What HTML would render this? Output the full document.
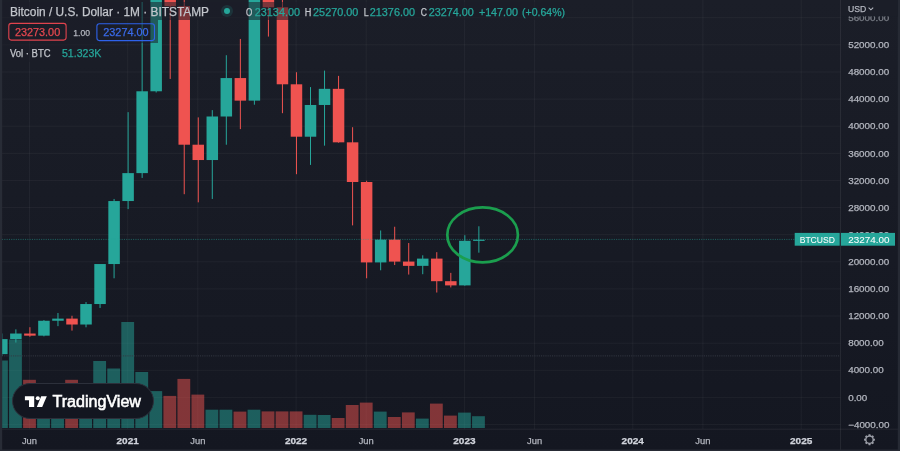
<!DOCTYPE html>
<html><head><meta charset="utf-8"><title>BTCUSD</title>
<style>html,body{margin:0;padding:0;background:#181c27;width:900px;height:451px;overflow:hidden}svg{display:block;will-change:transform}text{font-family:"Liberation Sans",sans-serif}</style>
</head><body>
<svg width="900" height="451" viewBox="0 0 900 451" font-family="Liberation Sans, sans-serif">
<defs><linearGradient id="bgg" x1="0" y1="0" x2="0" y2="1"><stop offset="0" stop-color="#1b1e28"/><stop offset="1" stop-color="#141721"/></linearGradient><clipPath id="chartclip"><rect x="2" y="0" width="838.0" height="428.7"/></clipPath></defs>
<rect x="0" y="0" width="900" height="451" fill="url(#bgg)"/>
<rect x="2" y="424.02" width="838.50" height="1" fill="rgba(255,255,255,0.045)"/>
<rect x="2" y="396.90" width="838.50" height="1" fill="rgba(255,255,255,0.045)"/>
<rect x="2" y="369.78" width="838.50" height="1" fill="rgba(255,255,255,0.045)"/>
<rect x="2" y="342.66" width="838.50" height="1" fill="rgba(255,255,255,0.045)"/>
<rect x="2" y="315.54" width="838.50" height="1" fill="rgba(255,255,255,0.045)"/>
<rect x="2" y="288.42" width="838.50" height="1" fill="rgba(255,255,255,0.045)"/>
<rect x="2" y="261.30" width="838.50" height="1" fill="rgba(255,255,255,0.045)"/>
<rect x="2" y="234.18" width="838.50" height="1" fill="rgba(255,255,255,0.045)"/>
<rect x="2" y="207.06" width="838.50" height="1" fill="rgba(255,255,255,0.045)"/>
<rect x="2" y="179.94" width="838.50" height="1" fill="rgba(255,255,255,0.045)"/>
<rect x="2" y="152.82" width="838.50" height="1" fill="rgba(255,255,255,0.045)"/>
<rect x="2" y="125.70" width="838.50" height="1" fill="rgba(255,255,255,0.045)"/>
<rect x="2" y="98.58" width="838.50" height="1" fill="rgba(255,255,255,0.045)"/>
<rect x="2" y="71.46" width="838.50" height="1" fill="rgba(255,255,255,0.045)"/>
<rect x="2" y="44.34" width="838.50" height="1" fill="rgba(255,255,255,0.045)"/>
<rect x="2" y="17.22" width="838.50" height="1" fill="rgba(255,255,255,0.045)"/>
<rect x="29.00" y="0" width="1" height="429.20" fill="rgba(255,255,255,0.045)"/>
<rect x="127.21" y="0" width="1" height="429.20" fill="rgba(255,255,255,0.045)"/>
<rect x="197.36" y="0" width="1" height="429.20" fill="rgba(255,255,255,0.045)"/>
<rect x="295.57" y="0" width="1" height="429.20" fill="rgba(255,255,255,0.045)"/>
<rect x="365.72" y="0" width="1" height="429.20" fill="rgba(255,255,255,0.045)"/>
<rect x="463.93" y="0" width="1" height="429.20" fill="rgba(255,255,255,0.045)"/>
<rect x="534.08" y="0" width="1" height="429.20" fill="rgba(255,255,255,0.045)"/>
<rect x="632.29" y="0" width="1" height="429.20" fill="rgba(255,255,255,0.045)"/>
<rect x="702.44" y="0" width="1" height="429.20" fill="rgba(255,255,255,0.045)"/>
<rect x="800.65" y="0" width="1" height="429.20" fill="rgba(255,255,255,0.045)"/>
<g clip-path="url(#chartclip)">
<rect x="-4.96" y="360.50" width="12.8" height="67.50" fill="rgba(38,166,154,0.5)"/>
<rect x="9.07" y="339.50" width="12.8" height="88.50" fill="rgba(38,166,154,0.5)"/>
<rect x="23.10" y="379.80" width="12.8" height="48.20" fill="rgba(239,83,80,0.5)"/>
<rect x="37.13" y="386.00" width="12.8" height="42.00" fill="rgba(38,166,154,0.5)"/>
<rect x="51.16" y="387.00" width="12.8" height="41.00" fill="rgba(38,166,154,0.5)"/>
<rect x="65.19" y="379.80" width="12.8" height="48.20" fill="rgba(239,83,80,0.5)"/>
<rect x="79.22" y="385.00" width="12.8" height="43.00" fill="rgba(38,166,154,0.5)"/>
<rect x="93.25" y="361.00" width="12.8" height="67.00" fill="rgba(38,166,154,0.5)"/>
<rect x="107.28" y="368.50" width="12.8" height="59.50" fill="rgba(38,166,154,0.5)"/>
<rect x="121.31" y="322.00" width="12.8" height="106.00" fill="rgba(38,166,154,0.5)"/>
<rect x="135.34" y="372.00" width="12.8" height="56.00" fill="rgba(38,166,154,0.5)"/>
<rect x="149.37" y="391.10" width="12.8" height="36.90" fill="rgba(38,166,154,0.5)"/>
<rect x="163.40" y="395.90" width="12.8" height="32.10" fill="rgba(239,83,80,0.5)"/>
<rect x="177.43" y="378.90" width="12.8" height="49.10" fill="rgba(239,83,80,0.5)"/>
<rect x="191.46" y="394.60" width="12.8" height="33.40" fill="rgba(239,83,80,0.5)"/>
<rect x="205.49" y="409.70" width="12.8" height="18.30" fill="rgba(38,166,154,0.5)"/>
<rect x="219.52" y="409.70" width="12.8" height="18.30" fill="rgba(38,166,154,0.5)"/>
<rect x="233.55" y="411.60" width="12.8" height="16.40" fill="rgba(239,83,80,0.5)"/>
<rect x="247.58" y="409.70" width="12.8" height="18.30" fill="rgba(38,166,154,0.5)"/>
<rect x="261.61" y="411.40" width="12.8" height="16.60" fill="rgba(239,83,80,0.5)"/>
<rect x="275.64" y="411.40" width="12.8" height="16.60" fill="rgba(239,83,80,0.5)"/>
<rect x="289.67" y="411.40" width="12.8" height="16.60" fill="rgba(239,83,80,0.5)"/>
<rect x="303.70" y="414.80" width="12.8" height="13.20" fill="rgba(38,166,154,0.5)"/>
<rect x="317.73" y="415.00" width="12.8" height="13.00" fill="rgba(38,166,154,0.5)"/>
<rect x="331.76" y="418.00" width="12.8" height="10.00" fill="rgba(239,83,80,0.5)"/>
<rect x="345.79" y="405.00" width="12.8" height="23.00" fill="rgba(239,83,80,0.5)"/>
<rect x="359.82" y="402.60" width="12.8" height="25.40" fill="rgba(239,83,80,0.5)"/>
<rect x="373.85" y="411.60" width="12.8" height="16.40" fill="rgba(38,166,154,0.5)"/>
<rect x="387.88" y="417.00" width="12.8" height="11.00" fill="rgba(239,83,80,0.5)"/>
<rect x="401.91" y="412.40" width="12.8" height="15.60" fill="rgba(239,83,80,0.5)"/>
<rect x="415.94" y="418.60" width="12.8" height="9.40" fill="rgba(38,166,154,0.5)"/>
<rect x="429.97" y="403.60" width="12.8" height="24.40" fill="rgba(239,83,80,0.5)"/>
<rect x="444.00" y="415.60" width="12.8" height="12.40" fill="rgba(239,83,80,0.5)"/>
<rect x="458.03" y="412.60" width="12.8" height="15.40" fill="rgba(38,166,154,0.5)"/>
<rect x="472.06" y="416.20" width="12.8" height="11.80" fill="rgba(38,166,154,0.5)"/>
<line x1="2" y1="355.9" x2="840.5" y2="355.9" stroke="#343843" stroke-width="1" stroke-dasharray="1.1 1.1"/>
<rect x="1.34" y="333.46" width="1" height="22.44" fill="#26a69a"/>
<rect x="-3.91" y="339.10" width="11.5" height="15.03" fill="#26a69a"/>
<rect x="15.37" y="329.35" width="1" height="13.22" fill="#26a69a"/>
<rect x="10.12" y="333.53" width="11.5" height="5.57" fill="#26a69a"/>
<rect x="29.40" y="327.22" width="1" height="9.53" fill="#ef5350"/>
<rect x="24.15" y="333.53" width="11.5" height="2.13" fill="#ef5350"/>
<rect x="43.43" y="320.08" width="1" height="16.29" fill="#26a69a"/>
<rect x="38.18" y="320.76" width="11.5" height="14.90" fill="#26a69a"/>
<rect x="57.46" y="313.02" width="1" height="13.12" fill="#26a69a"/>
<rect x="52.21" y="318.61" width="11.5" height="2.14" fill="#26a69a"/>
<rect x="71.49" y="315.77" width="1" height="14.85" fill="#ef5350"/>
<rect x="66.24" y="318.61" width="11.5" height="5.90" fill="#ef5350"/>
<rect x="85.52" y="302.07" width="1" height="25.22" fill="#26a69a"/>
<rect x="80.27" y="304.04" width="11.5" height="20.48" fill="#26a69a"/>
<rect x="99.55" y="265.46" width="1" height="42.51" fill="#26a69a"/>
<rect x="94.30" y="264.03" width="11.5" height="40.00" fill="#26a69a"/>
<rect x="113.58" y="198.95" width="1" height="79.33" fill="#26a69a"/>
<rect x="108.33" y="201.05" width="11.5" height="62.99" fill="#26a69a"/>
<rect x="127.61" y="112.16" width="1" height="96.95" fill="#26a69a"/>
<rect x="122.36" y="173.11" width="11.5" height="27.93" fill="#26a69a"/>
<rect x="141.64" y="1.99" width="1" height="175.94" fill="#26a69a"/>
<rect x="136.39" y="91.28" width="11.5" height="81.83" fill="#26a69a"/>
<rect x="155.67" y="-21.27" width="1" height="113.77" fill="#26a69a"/>
<rect x="150.42" y="-1.00" width="11.5" height="92.28" fill="#26a69a"/>
<rect x="169.70" y="-42.42" width="1" height="121.36" fill="#ef5350"/>
<rect x="164.45" y="-1.00" width="11.5" height="7.25" fill="#ef5350"/>
<rect x="183.73" y="-6.49" width="1" height="200.69" fill="#ef5350"/>
<rect x="178.48" y="6.26" width="11.5" height="138.45" fill="#ef5350"/>
<rect x="197.76" y="117.38" width="1" height="84.95" fill="#ef5350"/>
<rect x="192.51" y="144.71" width="11.5" height="15.32" fill="#ef5350"/>
<rect x="211.79" y="110.13" width="1" height="88.82" fill="#26a69a"/>
<rect x="206.54" y="116.50" width="11.5" height="43.53" fill="#26a69a"/>
<rect x="225.82" y="55.21" width="1" height="89.50" fill="#26a69a"/>
<rect x="220.57" y="78.06" width="11.5" height="38.44" fill="#26a69a"/>
<rect x="239.85" y="38.94" width="1" height="90.17" fill="#ef5350"/>
<rect x="234.60" y="78.06" width="11.5" height="22.58" fill="#ef5350"/>
<rect x="253.88" y="-56.66" width="1" height="161.36" fill="#26a69a"/>
<rect x="248.63" y="-18.35" width="11.5" height="118.99" fill="#26a69a"/>
<rect x="267.91" y="-70.22" width="1" height="106.79" fill="#ef5350"/>
<rect x="262.66" y="-18.35" width="11.5" height="25.66" fill="#ef5350"/>
<rect x="281.94" y="-3.10" width="1" height="116.28" fill="#ef5350"/>
<rect x="276.69" y="7.30" width="11.5" height="76.99" fill="#ef5350"/>
<rect x="295.97" y="72.23" width="1" height="101.97" fill="#ef5350"/>
<rect x="290.72" y="84.30" width="11.5" height="52.41" fill="#ef5350"/>
<rect x="310.00" y="87.08" width="1" height="77.83" fill="#26a69a"/>
<rect x="304.75" y="104.98" width="11.5" height="31.73" fill="#26a69a"/>
<rect x="324.03" y="70.60" width="1" height="75.05" fill="#26a69a"/>
<rect x="318.78" y="88.84" width="11.5" height="16.14" fill="#26a69a"/>
<rect x="338.06" y="75.89" width="1" height="66.78" fill="#ef5350"/>
<rect x="332.81" y="88.84" width="11.5" height="53.49" fill="#ef5350"/>
<rect x="352.09" y="127.21" width="1" height="98.17" fill="#ef5350"/>
<rect x="346.84" y="142.33" width="11.5" height="39.66" fill="#ef5350"/>
<rect x="366.12" y="180.78" width="1" height="97.50" fill="#ef5350"/>
<rect x="360.87" y="182.00" width="11.5" height="80.41" fill="#ef5350"/>
<rect x="380.15" y="230.47" width="1" height="39.80" fill="#26a69a"/>
<rect x="374.90" y="239.63" width="11.5" height="22.78" fill="#26a69a"/>
<rect x="394.18" y="226.74" width="1" height="38.31" fill="#ef5350"/>
<rect x="388.93" y="239.63" width="11.5" height="21.97" fill="#ef5350"/>
<rect x="408.21" y="243.02" width="1" height="31.53" fill="#ef5350"/>
<rect x="402.96" y="261.59" width="11.5" height="4.27" fill="#ef5350"/>
<rect x="422.24" y="255.29" width="1" height="18.92" fill="#26a69a"/>
<rect x="416.99" y="258.61" width="11.5" height="7.25" fill="#26a69a"/>
<rect x="436.27" y="252.17" width="1" height="40.34" fill="#ef5350"/>
<rect x="431.02" y="258.61" width="11.5" height="22.58" fill="#ef5350"/>
<rect x="450.30" y="272.85" width="1" height="14.58" fill="#ef5350"/>
<rect x="445.05" y="281.19" width="11.5" height="4.20" fill="#ef5350"/>
<rect x="464.33" y="235.22" width="1" height="50.51" fill="#26a69a"/>
<rect x="459.08" y="240.78" width="11.5" height="44.61" fill="#26a69a"/>
<rect x="478.36" y="226.27" width="1" height="26.40" fill="#26a69a"/>
<rect x="473.11" y="239.68" width="11.5" height="1.20" fill="#26a69a"/>
</g>
<line x1="2" y1="239.4" x2="795" y2="239.4" stroke="#26a69a" stroke-opacity="0.5" stroke-width="1" stroke-dasharray="1.1 1.2"/>
<ellipse cx="482.6" cy="234.9" rx="35.3" ry="27.5" fill="none" stroke="#1b9e4e" stroke-width="2.7"/>
<rect x="2" y="2" width="564" height="18" fill="rgba(27,30,40,0.55)"/>
<rect x="2" y="20" width="156" height="23" fill="rgba(27,30,40,0.55)"/>
<rect x="2" y="43" width="102" height="19" fill="rgba(27,30,40,0.55)"/>
<text x="10" y="15.7" font-size="12" fill="#c3c6cc" stroke="#c3c6cc" stroke-width="0.25" textLength="199" lengthAdjust="spacingAndGlyphs">Bitcoin / U.S. Dollar · 1M · BITSTAMP</text>
<circle cx="227" cy="11" r="6" fill="rgba(38,166,154,0.16)"/>
<circle cx="227" cy="11" r="3" fill="#26a69a"/>
<text x="246" y="15.9" font-size="10" fill="#c3c6cc" stroke="#c3c6cc" stroke-width="0.25" textLength="6.3" lengthAdjust="spacingAndGlyphs">O</text>
<text x="254.8" y="15.9" font-size="10" fill="#26a69a" stroke="#26a69a" stroke-width="0.25" textLength="45.2" lengthAdjust="spacingAndGlyphs">23134.00</text>
<text x="304.7" y="15.9" font-size="10" fill="#c3c6cc" stroke="#c3c6cc" stroke-width="0.25" textLength="6.6" lengthAdjust="spacingAndGlyphs">H</text>
<text x="313.1" y="15.9" font-size="10" fill="#26a69a" stroke="#26a69a" stroke-width="0.25" textLength="45.2" lengthAdjust="spacingAndGlyphs">25270.00</text>
<text x="363.8" y="15.9" font-size="10" fill="#c3c6cc" stroke="#c3c6cc" stroke-width="0.25" textLength="4.9" lengthAdjust="spacingAndGlyphs">L</text>
<text x="369.8" y="15.9" font-size="10" fill="#26a69a" stroke="#26a69a" stroke-width="0.25" textLength="45.2" lengthAdjust="spacingAndGlyphs">21376.00</text>
<text x="420.7" y="15.9" font-size="10" fill="#c3c6cc" stroke="#c3c6cc" stroke-width="0.25" textLength="6.2" lengthAdjust="spacingAndGlyphs">C</text>
<text x="428.8" y="15.9" font-size="10" fill="#26a69a" stroke="#26a69a" stroke-width="0.25" textLength="45" lengthAdjust="spacingAndGlyphs">23274.00</text>
<text x="478.9" y="15.9" font-size="10" fill="#26a69a" stroke="#26a69a" stroke-width="0.25" textLength="39.1" lengthAdjust="spacingAndGlyphs">+147.00</text>
<text x="522" y="15.9" font-size="10" fill="#26a69a" stroke="#26a69a" stroke-width="0.25" textLength="43" lengthAdjust="spacingAndGlyphs">(+0.64%)</text>
<rect x="8.8" y="23.4" width="57.3" height="16.7" rx="2.5" fill="none" stroke="#e0434d" stroke-width="1.1"/>
<text x="14.9" y="36" font-size="10" fill="#e5474f" stroke="#e5474f" stroke-width="0.25" textLength="45.3" lengthAdjust="spacingAndGlyphs">23273.00</text>
<text x="73.3" y="35.6" font-size="8.5" fill="#b2b5be" stroke="#b2b5be" stroke-width="0.25" textLength="16.7" lengthAdjust="spacingAndGlyphs">1.00</text>
<rect x="96.9" y="23.8" width="57.6" height="16.8" rx="2.5" fill="none" stroke="#2e62ea" stroke-width="1.1"/>
<text x="103.3" y="36.1" font-size="10" fill="#3a6ae8" stroke="#3a6ae8" stroke-width="0.25" textLength="45.3" lengthAdjust="spacingAndGlyphs">23274.00</text>
<text x="10" y="56.6" font-size="10" fill="#c3c6cc" stroke="#c3c6cc" stroke-width="0.25" textLength="40.6" lengthAdjust="spacingAndGlyphs">Vol · BTC</text>
<text x="62" y="56.7" font-size="10" fill="#26a69a" stroke="#26a69a" stroke-width="0.25" textLength="39.3" lengthAdjust="spacingAndGlyphs">51.323K</text>
<rect x="12.5" y="383.5" width="141" height="35" rx="17.5" fill="#131620" stroke="#2c303b" stroke-width="1"/>
<g fill="#ffffff"><path d="M24.9 396.2 H34.2 V407.1 H29 V400.3 H24.9 Z"/><circle cx="37.8" cy="398.2" r="2.05"/><path d="M41.2 396.2 H46.8 L42.2 407.1 H36.8 Z"/></g>
<text x="52.4" y="407" font-size="16" fill="#ffffff" stroke="#ffffff" stroke-width="0.55" textLength="88.6" lengthAdjust="spacingAndGlyphs">TradingView</text>
<rect x="840.0" y="0" width="1" height="451" fill="rgba(255,255,255,0.07)"/>
<rect x="0" y="428.7" width="900" height="1" fill="rgba(255,255,255,0.07)"/>
<rect x="0" y="0" width="2.2" height="451" fill="#282c36"/>
<rect x="897.8" y="0" width="2.2" height="451" fill="#262a34"/>
<rect x="0" y="449.5" width="900" height="1.5" fill="#262a34"/>
<text x="848.2" y="427.71999999999997" font-size="9" fill="#b2b5be" stroke="#b2b5be" stroke-width="0.25" textLength="41.22" lengthAdjust="spacingAndGlyphs">−4000.00</text>
<text x="848.2" y="400.59999999999997" font-size="9" fill="#b2b5be" stroke="#b2b5be" stroke-width="0.25" textLength="19.11" lengthAdjust="spacingAndGlyphs">0.00</text>
<text x="848.2" y="373.47999999999996" font-size="9" fill="#b2b5be" stroke="#b2b5be" stroke-width="0.25" textLength="35.52" lengthAdjust="spacingAndGlyphs">4000.00</text>
<text x="848.2" y="346.35999999999996" font-size="9" fill="#b2b5be" stroke="#b2b5be" stroke-width="0.25" textLength="35.52" lengthAdjust="spacingAndGlyphs">8000.00</text>
<text x="848.2" y="319.23999999999995" font-size="9" fill="#b2b5be" stroke="#b2b5be" stroke-width="0.25" textLength="40.99" lengthAdjust="spacingAndGlyphs">12000.00</text>
<text x="848.2" y="292.11999999999995" font-size="9" fill="#b2b5be" stroke="#b2b5be" stroke-width="0.25" textLength="40.99" lengthAdjust="spacingAndGlyphs">16000.00</text>
<text x="848.2" y="264.99999999999994" font-size="9" fill="#b2b5be" stroke="#b2b5be" stroke-width="0.25" textLength="40.99" lengthAdjust="spacingAndGlyphs">20000.00</text>
<text x="848.2" y="237.87999999999997" font-size="9" fill="#b2b5be" stroke="#b2b5be" stroke-width="0.25" textLength="40.99" lengthAdjust="spacingAndGlyphs">24000.00</text>
<text x="848.2" y="210.75999999999996" font-size="9" fill="#b2b5be" stroke="#b2b5be" stroke-width="0.25" textLength="40.99" lengthAdjust="spacingAndGlyphs">28000.00</text>
<text x="848.2" y="183.63999999999996" font-size="9" fill="#b2b5be" stroke="#b2b5be" stroke-width="0.25" textLength="40.99" lengthAdjust="spacingAndGlyphs">32000.00</text>
<text x="848.2" y="156.51999999999995" font-size="9" fill="#b2b5be" stroke="#b2b5be" stroke-width="0.25" textLength="40.99" lengthAdjust="spacingAndGlyphs">36000.00</text>
<text x="848.2" y="129.39999999999992" font-size="9" fill="#b2b5be" stroke="#b2b5be" stroke-width="0.25" textLength="40.99" lengthAdjust="spacingAndGlyphs">40000.00</text>
<text x="848.2" y="102.27999999999999" font-size="9" fill="#b2b5be" stroke="#b2b5be" stroke-width="0.25" textLength="40.99" lengthAdjust="spacingAndGlyphs">44000.00</text>
<text x="848.2" y="75.15999999999998" font-size="9" fill="#b2b5be" stroke="#b2b5be" stroke-width="0.25" textLength="40.99" lengthAdjust="spacingAndGlyphs">48000.00</text>
<text x="848.2" y="48.03999999999998" font-size="9" fill="#b2b5be" stroke="#b2b5be" stroke-width="0.25" textLength="40.99" lengthAdjust="spacingAndGlyphs">52000.00</text>
<text x="848.2" y="20.91999999999997" font-size="9" fill="#7d8089" stroke="#7d8089" stroke-width="0.25" textLength="40.99" lengthAdjust="spacingAndGlyphs">56000.00</text>
<rect x="841" y="0" width="56.8" height="16.4" fill="#1b1e28"/>
<text x="848" y="12.4" font-size="9" fill="#b2b5be" stroke="#b2b5be" stroke-width="0.25" textLength="18.3" lengthAdjust="spacingAndGlyphs">USD</text>
<path d="M868.6 7.6 L870.9 9.8 L873.2 7.6" fill="none" stroke="#b2b5be" stroke-width="1.1"/>
<rect x="794.7" y="232.9" width="45" height="12.8" fill="#26a69a"/>
<rect x="840.9" y="232.9" width="54.1" height="12.8" fill="#26a69a"/>
<text x="799.7" y="242.8" font-size="9" fill="#ffffff" stroke="#ffffff" stroke-width="0.05" textLength="35.2" lengthAdjust="spacingAndGlyphs">BTCUSD</text>
<text x="848.3" y="242.8" font-size="9" fill="#ffffff" stroke="#ffffff" stroke-width="0.05" textLength="41.3" lengthAdjust="spacingAndGlyphs">23274.00</text>
<text x="29.50" y="443.5" font-size="9" fill="#b2b5be" stroke="#b2b5be" stroke-width="0.25" textLength="15.1" lengthAdjust="spacingAndGlyphs" text-anchor="middle">Jun</text>
<text x="127.71" y="443.5" font-size="9" fill="#d1d4dc" stroke="#d1d4dc" stroke-width="0.25" textLength="22.3" lengthAdjust="spacingAndGlyphs" font-weight="bold" text-anchor="middle">2021</text>
<text x="197.86" y="443.5" font-size="9" fill="#b2b5be" stroke="#b2b5be" stroke-width="0.25" textLength="15.1" lengthAdjust="spacingAndGlyphs" text-anchor="middle">Jun</text>
<text x="296.07" y="443.5" font-size="9" fill="#d1d4dc" stroke="#d1d4dc" stroke-width="0.25" textLength="22.3" lengthAdjust="spacingAndGlyphs" font-weight="bold" text-anchor="middle">2022</text>
<text x="366.22" y="443.5" font-size="9" fill="#b2b5be" stroke="#b2b5be" stroke-width="0.25" textLength="15.1" lengthAdjust="spacingAndGlyphs" text-anchor="middle">Jun</text>
<text x="464.43" y="443.5" font-size="9" fill="#d1d4dc" stroke="#d1d4dc" stroke-width="0.25" textLength="22.3" lengthAdjust="spacingAndGlyphs" font-weight="bold" text-anchor="middle">2023</text>
<text x="534.58" y="443.5" font-size="9" fill="#b2b5be" stroke="#b2b5be" stroke-width="0.25" textLength="15.1" lengthAdjust="spacingAndGlyphs" text-anchor="middle">Jun</text>
<text x="632.79" y="443.5" font-size="9" fill="#d1d4dc" stroke="#d1d4dc" stroke-width="0.25" textLength="22.3" lengthAdjust="spacingAndGlyphs" font-weight="bold" text-anchor="middle">2024</text>
<text x="702.94" y="443.5" font-size="9" fill="#b2b5be" stroke="#b2b5be" stroke-width="0.25" textLength="15.1" lengthAdjust="spacingAndGlyphs" text-anchor="middle">Jun</text>
<text x="801.15" y="443.5" font-size="9" fill="#d1d4dc" stroke="#d1d4dc" stroke-width="0.25" textLength="22.3" lengthAdjust="spacingAndGlyphs" font-weight="bold" text-anchor="middle">2025</text>
<g transform="translate(869.5,439.7)"><path d="M-1.27 -4.11 L-0.88 -5.43 L0.88 -5.43 L1.27 -4.11 L1.87 -3.87 L2.43 -3.55 L2.01 -3.80 L3.22 -4.46 L4.46 -3.22 L3.80 -2.01 L4.06 -1.42 L4.23 -0.79 L4.11 -1.27 L5.43 -0.88 L5.43 0.88 L4.11 1.27 L3.87 1.87 L3.55 2.43 L3.80 2.01 L4.46 3.22 L3.22 4.46 L2.01 3.80 L1.42 4.06 L0.79 4.23 L1.27 4.11 L0.88 5.43 L-0.88 5.43 L-1.27 4.11 L-1.87 3.87 L-2.43 3.55 L-2.01 3.80 L-3.22 4.46 L-4.46 3.22 L-3.80 2.01 L-4.06 1.42 L-4.23 0.79 L-4.11 1.27 L-5.43 0.88 L-5.43 -0.88 L-4.11 -1.27 L-3.87 -1.87 L-3.55 -2.43 L-3.80 -2.01 L-4.46 -3.22 L-3.22 -4.46 L-2.01 -3.80 L-1.42 -4.06 L-0.79 -4.23 Z" fill="#9a9da6"/><circle r="3.0" fill="#151822"/></g>
</svg>
</body></html>
